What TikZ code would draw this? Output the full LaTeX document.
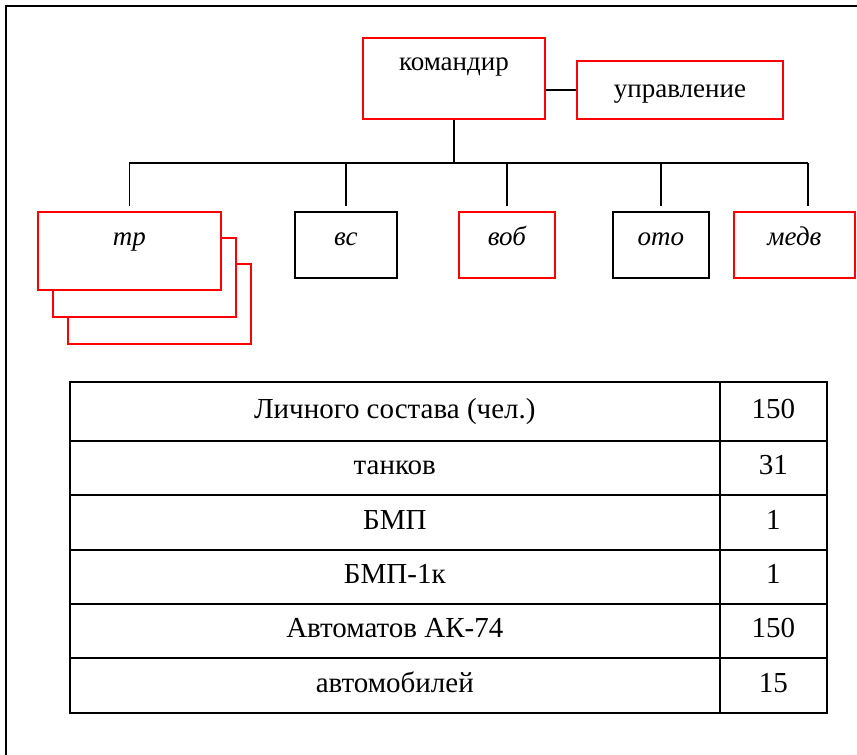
\documentclass[tikz,border=0pt]{standalone}
\usepackage{fontspec}
\setmainfont{Liberation Serif}
\definecolor{unitred}{HTML}{FF0000}
\usetikzlibrary{positioning}

\begin{document}
\begin{tikzpicture}[x=1pt, y=-1pt,
   link/.style={line width=1.6pt},
   redbox/.style={draw=unitred, line width=1.8pt, fill=white, inner sep=0pt, anchor=north west,
      font=\fontsize{27}{32}\selectfont\itshape, text height=34pt, text depth=32pt},
   blackbox/.style={redbox, draw=black},
   cell/.style={draw, line width=1.6pt, inner sep=0pt, anchor=north west,
      font=\fontsize{29}{34}\selectfont, text height=20pt, text depth=6pt}]
   \useasboundingbox (0,0) rectangle (857,755);
   % Page frame
   \draw[line width=2pt] (6,755) -- (6,6) -- (857,6);
   % Command
   \node[redbox, font=\fontsize{27}{32}\selectfont, minimum width=182pt, text height=33pt, text depth=48pt]
      (komandir) at (362,37) {командир};
   \node[redbox, font=\fontsize{27}{32}\selectfont, minimum width=206pt, text height=37pt, text depth=21pt]
      (uprav) at (576,60) {управление};
   \draw[link] (komandir.east |- uprav.west) -- (uprav.west);
   % Subunits (tr stacked three deep)
   \node[redbox, minimum width=183pt, minimum height=80pt] (tr3) at (67,263) {};
   \node[redbox, minimum width=183pt, minimum height=79pt] (tr2) at (52,237) {};
   \node[redbox, minimum width=183pt, text depth=44pt] (tr) at (37,211) {тр};
   \node[blackbox, minimum width=102pt] (vs) at (294,211) {вс};
   \node[redbox, minimum width=96pt] (vob) at (458,211) {воб};
   \node[blackbox, minimum width=96pt] (oto) at (612,211) {ото};
   \node[redbox, minimum width=121pt] (medv) at (733,211) {медв};
   % Bus
   \coordinate (busL) at (129,163);
   \coordinate (busR) at (808,163);
   \coordinate (medvtop) at (808,206);
   \draw[link] (komandir.south) -- (komandir.south |- busL);
   \draw[link] (busL) -- (busR);
   \foreach \unit in {tr, vs, vob, oto}
      \draw[link] ([yshift=5pt]\unit.north) -- (\unit.north |- busL);
   \draw[link] (medvtop) -- (busR);
   % Table
   \foreach \what/\num/\ytop/\hgt [count=\i] in {Личного состава (чел.)/150/381/59, танков/31/440/54,
         БМП/1/494/55, БМП-1к/1/549/54, Автоматов АК-74/150/603/54, автомобилей/15/657/55} {
      \node[cell, minimum width=650pt, minimum height=\hgt pt] (row\i) at (69,\ytop) {\what};
      \node[cell, minimum width=107pt, minimum height=\hgt pt] (num\i) at (719,\ytop) {\num};
   }
\end{tikzpicture}
\end{document}
